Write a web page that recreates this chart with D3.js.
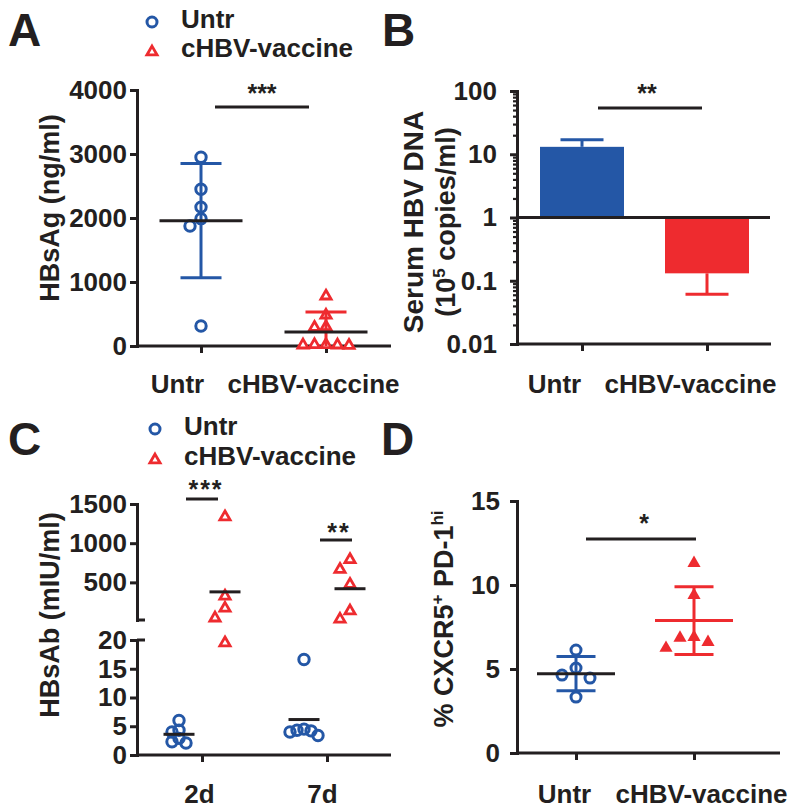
<!DOCTYPE html>
<html><head><meta charset="utf-8">
<script src="https://cdn.jsdelivr.net/npm/d3@7"></script>
<style>body{margin:0;background:#fff} svg{display:block}</style>
</head><body><svg id="c" width="796" height="812"></svg>
<script>
// ---------------- DATA ----------------
const groups = ["Untr", "cHBV-vaccine"];

// Panel A: HBsAg (ng/ml)
const hbsagUntr = [2950, 2450, 2170, 1990, 1875, 312];
const hbsagVacc = [780, 480, 300, 290, 20, 15, 10, 20, 15];
const hbsagMean = [1958, 219];
const hbsagSD = [893, 312];
const hbsagTicks = [0, 1000, 2000, 3000, 4000];
const hbsagSig = "***";

// Panel B: Serum HBV DNA (10^5 copies/ml), bars = mean, whisker bound
const dnaMean = [13.1, 0.131];
const dnaErr = [16.9, 0.061];
const dnaTicks = [0.01, 0.1, 1, 10, 100];
const dnaTickLabels = ["0.01", "0.1", "1", "10", "100"];
const dnaSig = "**";

// Panel C: HBsAb (mIU/ml)
const days = ["2d", "7d"];
const hbsabUntr = [[6.0, 4.3, 4.0, 2.9, 2.3, 2.1], [16.6, 4.3, 4.5, 4.0, 4.2, 3.4]];
const hbsabVacc = [[1335, 325, 170, 45, 19.5], [790, 665, 475, 135, 30]];
const hbsabLowTicks = [0, 5, 10, 15, 20];
const hbsabHighTicks = [500, 1000, 1500];
const hbsabSig = ["***", "**"];

// Panel D: % CXCR5+ PD-1hi
const tfhUntr = [6.13, 5.06, 4.64, 4.46, 3.33];
const tfhVacc = [11.3, 9.4, 6.85, 6.9, 6.6, 6.25];
const tfhTicks = [0, 5, 10, 15];
const tfhSig = "*";

// ---------------- STYLE ----------------
const BLUE = "#2457a6", RED = "#ee2b2f", BLACK = "#231f20";
const FONT = '"Liberation Sans", Arial, Helvetica, sans-serif';
const TICK_FS = 26, LAB_FS = 26, TITLE_FS = 27;
const svg = d3.select("#c");
const fmt = d3.format("d");

function styleAxis(g, fs) {
  g.selectAll("path.domain").attr("stroke", BLACK).attr("stroke-width", 3).attr("stroke-linecap", "square");
  g.selectAll(".tick line").attr("stroke", BLACK).attr("stroke-width", 3);
  g.selectAll(".tick text").attr("fill", BLACK).attr("font-size", fs).attr("font-weight", "bold").attr("font-family", FONT);
}
function hline(x1, x2, y, color, w) {
  svg.append("line").attr("x1", x1).attr("x2", x2).attr("y1", y).attr("y2", y)
    .attr("stroke", color).attr("stroke-width", w || 3);
}
function vline(x, y1, y2, color, w) {
  svg.append("line").attr("x1", x).attr("x2", x).attr("y1", y1).attr("y2", y2)
    .attr("stroke", color).attr("stroke-width", w || 3);
}
function text(str, x, y, fs, weight, anchor) {
  return svg.append("text").attr("x", x).attr("y", y).attr("font-family", FONT)
    .attr("font-size", fs).attr("font-weight", weight || "bold").attr("fill", BLACK)
    .attr("text-anchor", anchor || "start").text(str);
}
function swarm(values, yfn, cx, step, minDist) {
  const placed = [], res = new Array(values.length);
  const order = values.map((v, i) => i).sort((a, b) => values[b] - values[a]);
  order.forEach(i => {
    const y = yfn(values[i]);
    for (let k = 0; k < 60; k++) {
      const off = k === 0 ? 0 : (k % 2 ? -Math.ceil(k / 2) : Math.ceil(k / 2)) * step;
      const x = cx + off;
      if (placed.every(p => Math.hypot(p.x - x, p.y - y) >= minDist)) {
        placed.push({x, y}); res[i] = {x, y}; break;
      }
    }
  });
  return res;
}
const tri = s => d3.symbol(d3.symbolTriangle, s)();
function circles(pts, r, color, sw) {
  svg.append("g").selectAll("circle").data(pts).join("circle")
    .attr("cx", d => d.x).attr("cy", d => d.y).attr("r", r)
    .attr("fill", "none").attr("stroke", color).attr("stroke-width", sw);
}
function triangles(pts, size, color, filled, sw) {
  svg.append("g").selectAll("path").data(pts).join("path")
    .attr("d", tri(size)).attr("transform", d => `translate(${d.x},${d.y})`)
    .attr("fill", filled ? color : "#fff").attr("stroke", filled ? "none" : color)
    .attr("stroke-width", sw || 0).attr("stroke-linejoin", "miter");
}
function xAxisLabels(g, baselineOffset, dxs) {
  g.selectAll(".tick text").attr("y", baselineOffset).attr("dy", null)
    .attr("dx", (d, i) => dxs[i]);
}
function legend(x, yc, yt) {
  svg.append("circle").attr("cx", x).attr("cy", yc).attr("r", 5).attr("fill", "#fff")
    .attr("stroke", BLUE).attr("stroke-width", 3);
  text(groups[0], x + 29, yc + 6, LAB_FS);
  svg.append("path").attr("d", tri(45)).attr("transform", `translate(${x},${yt})`)
    .attr("fill", "#fff").attr("stroke", RED).attr("stroke-width", 2.8);
  text(groups[1], x + 29, yt + 5, LAB_FS);
}
function meanSD(arr) {
  return [d3.mean(arr), d3.deviation(arr)];
}
function yTitle(x, y, fs) {
  return svg.append("text").attr("transform", `translate(${x},${y}) rotate(-90)`)
    .attr("font-family", FONT).attr("font-size", fs).attr("font-weight", "bold")
    .attr("fill", BLACK).attr("text-anchor", "middle");
}

// ---------------- PANEL LETTERS ----------------
text("A", 8, 46, 46);
text("B", 382, 46, 46);
text("C", 8, 455, 46);
text("D", 381, 455, 46);

// ================= PANEL A =================
{
  const y = d3.scaleLinear().domain([0, 4000]).range([346, 90]);
  const x = d3.scalePoint().domain(groups).range([201, 326]);
  const gy = svg.append("g").attr("transform", "translate(137,0)")
    .call(d3.axisLeft(y).tickValues(hbsagTicks).tickFormat(fmt).tickSize(7).tickSizeOuter(0).tickPadding(3));
  styleAxis(gy, TICK_FS);
  const gx = svg.append("g").attr("transform", "translate(0,346)")
    .call(d3.axisBottom(x).tickSize(7).tickSizeOuter(0));
  gx.select("path.domain").remove();
  styleAxis(gx, LAB_FS);
  xAxisLabels(gx, 47, [-24, -13]);
  hline(137, 391, 346, BLACK);

  legend(152, 22, 52);

  const pu = swarm(hbsagUntr, y, x(groups[0]), 11, 11);
  circles(pu, 5.2, BLUE, 3);
  const pv = swarm(hbsagVacc, y, x(groups[1]), 11.5, 11);
  triangles(pv, 45, RED, false, 2.8);

  const cols = [BLUE, RED];
  groups.forEach((gname, i) => {
    const cx = x(gname), m = hbsagMean[i], s = hbsagSD[i];
    const lo = Math.max(0, m - s), hi = m + s;
    vline(cx, y(hi), y(lo), cols[i]);
    hline(cx - 20.5, cx + 20.5, y(hi), cols[i]);
    if (m - s > 0) hline(cx - 20.5, cx + 20.5, y(lo), cols[i]);
    hline(cx - 41.5, cx + 41.5, y(m), BLACK);
  });
  hline(215, 309, 107, BLACK);
  text(hbsagSig, 262, 102, 25, "bold", "middle");

  yTitle(59, 208, TITLE_FS).text("HBsAg (ng/ml)");
}

// ================= PANEL B =================
{
  const y = d3.scaleLog().domain([0.01, 100]).range([344, 91]);
  const x = d3.scalePoint().domain(groups).range([582, 707]);
  const minor = [];
  [0.01, 0.1, 1, 10].forEach(d => { for (let k = 2; k <= 9; k++) minor.push(d * k); });
  const gm = svg.append("g").attr("transform", "translate(517,0)")
    .call(d3.axisLeft(y).tickValues(minor).tickSize(4).tickFormat(""));
  gm.select("path.domain").remove();
  gm.selectAll(".tick line").attr("stroke", BLACK).attr("stroke-width", 2.2);
  const gy = svg.append("g").attr("transform", "translate(517,0)")
    .call(d3.axisLeft(y).tickValues(dnaTicks).tickSize(7).tickSizeOuter(0).tickPadding(13)
      .tickFormat((d, i) => dnaTickLabels[i]));
  styleAxis(gy, TICK_FS);

  const cols = [BLUE, RED];
  groups.forEach((gname, i) => {
    const cx = x(gname), v = dnaMean[i];
    svg.append("rect").attr("x", cx - 42).attr("width", 84)
      .attr("y", y(Math.max(1, v))).attr("height", Math.abs(y(v) - y(1)))
      .attr("fill", cols[i]);
    vline(cx, y(v), y(dnaErr[i]), cols[i]);
    hline(cx - 21.5, cx + 21.5, y(dnaErr[i]), cols[i]);
  });
  hline(517, 770, y(1), BLACK);

  const gx = svg.append("g").attr("transform", "translate(0,344)")
    .call(d3.axisBottom(x).tickSize(7).tickSizeOuter(0));
  gx.select("path.domain").remove();
  styleAxis(gx, LAB_FS);
  xAxisLabels(gx, 49, [-28, -17]);
  hline(517, 771, 344, BLACK);

  hline(598, 702, 108, BLACK);
  text(dnaSig, 647, 102, 25, "bold", "middle");

  yTitle(423, 222, 28).text("Serum HBV DNA");
  const t2 = yTitle(455, 222, TITLE_FS);
  t2.append("tspan").text("(10");
  t2.append("tspan").attr("font-size", 17).attr("dy", -10).text("5");
  t2.append("tspan").attr("dy", 10).text(" copies/ml)");
}

// ================= PANEL C =================
{
  const yLow = d3.scaleLinear().domain([0, 20]).range([755, 640]);
  const yHigh = d3.scaleLinear().domain([20, 1500]).range([620, 504]);
  const yC = v => v > 20 ? yHigh(v) : yLow(v);
  const x = d3.scalePoint().domain(days).range([202, 327]);

  const g1 = svg.append("g").attr("transform", "translate(137,0)")
    .call(d3.axisLeft(yHigh).tickValues(hbsabHighTicks).tickFormat(fmt).tickSize(7).tickSizeOuter(0).tickPadding(3));
  styleAxis(g1, TICK_FS);
  const g2 = svg.append("g").attr("transform", "translate(137,0)")
    .call(d3.axisLeft(yLow).tickValues(hbsabLowTicks).tickFormat(fmt).tickSize(7).tickSizeOuter(0).tickPadding(3));
  styleAxis(g2, TICK_FS);
  hline(137, 145, yHigh(20), BLACK);
  hline(137, 145, yLow(20), BLACK);

  const gx = svg.append("g").attr("transform", "translate(0,755)")
    .call(d3.axisBottom(x).tickSize(7).tickSizeOuter(0));
  gx.select("path.domain").remove();
  styleAxis(gx, LAB_FS);
  xAxisLabels(gx, 48, [-3, -5]);
  hline(137, 391, 755, BLACK);

  legend(155, 429, 460);

  days.forEach((d, i) => {
    const cu = x(d) - 23, cv = x(d) + 23;
    const pu = swarm(hbsabUntr[i], yC, cu, 7, 7);
    circles(pu, 5.2, BLUE, 3);
    const pv = swarm(hbsabVacc[i], yC, cv, 10, 12);
    triangles(pv, 45, RED, false, 2.8);
    hline(cu - 15.5, cu + 15.5, yC(d3.mean(hbsabUntr[i])), BLACK);
    hline(cv - 15.5, cv + 15.5, yC(d3.mean(hbsabVacc[i])), BLACK);
  });
  hline(186, 218, 499, BLACK);
  text(hbsabSig[0], 206, 498, 25, "bold", "middle").attr("letter-spacing", 2);
  hline(320, 352, 540, BLACK);
  text(hbsabSig[1], 339, 541, 25, "bold", "middle").attr("letter-spacing", 2);

  yTitle(59, 615, TITLE_FS).text("HBsAb (mIU/ml)");
}

// ================= PANEL D =================
{
  const y = d3.scaleLinear().domain([0, 15]).range([753, 501]);
  const x = d3.scalePoint().domain(groups).range([576, 694]);
  const gy = svg.append("g").attr("transform", "translate(517,0)")
    .call(d3.axisLeft(y).tickValues(tfhTicks).tickFormat(fmt).tickSize(7).tickSizeOuter(0).tickPadding(10));
  styleAxis(gy, TICK_FS);
  const gx = svg.append("g").attr("transform", "translate(0,753)")
    .call(d3.axisBottom(x).tickSize(7).tickSizeOuter(0));
  gx.select("path.domain").remove();
  styleAxis(gx, LAB_FS);
  xAxisLabels(gx, 50, [-12, 7]);
  hline(517, 780, 753, BLACK);

  const pu = swarm(tfhUntr, y, x(groups[0]), 14, 11);
  circles(pu, 5, BLUE, 3);
  const pv = swarm(tfhVacc, y, x(groups[1]), 14, 13);
  triangles(pv, 75, RED, true);

  const sets = [tfhUntr, tfhVacc], cols = [BLUE, RED], meanCols = [BLACK, RED];
  groups.forEach((gname, i) => {
    const cx = x(gname);
    const [m, s] = meanSD(sets[i]);
    vline(cx, y(m + s), y(m - s), cols[i]);
    hline(cx - 19.5, cx + 19.5, y(m + s), cols[i]);
    hline(cx - 19.5, cx + 19.5, y(m - s), cols[i]);
    hline(cx - 39, cx + 39, y(m), meanCols[i]);
  });
  hline(586, 696, 539, BLACK);
  text(tfhSig, 644, 532, 25, "bold", "middle");

  const t = yTitle(453, 619, TITLE_FS);
  t.append("tspan").text("% CXCR5");
  t.append("tspan").attr("font-size", 17).attr("dy", -10).text("+");
  t.append("tspan").attr("dy", 10).text(" PD-1");
  t.append("tspan").attr("font-size", 17).attr("dy", -10).text("hi");
}
</script>
</body></html>
